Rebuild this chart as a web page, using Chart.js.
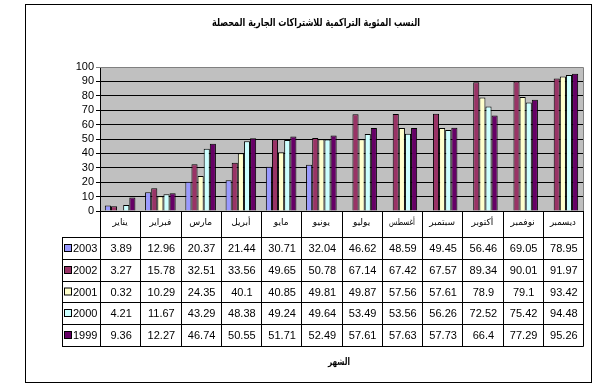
<!DOCTYPE html>
<html><head><meta charset="utf-8">
<script src="https://cdn.jsdelivr.net/npm/chart.js@4"></script>
<style>html,body{margin:0;padding:0;background:#fff}#wrap{width:598px;height:388px}</style>
</head><body><div id="wrap"><canvas id="c" width="598" height="388"></canvas></div>
<script>
const chartTitle = 'النسب المئوية التراكمية للاشتراكات الجارية المحصلة';
const axisTitle = 'الشهر';
const months = ['يناير','فبراير','مارس','أبريل','مايو','يونيو','يوليو','أغسطس','سبتمبر','أكتوبر','نوفمبر','ديسمبر'];
const years = ['2003','2002','2001','2000','1999'];
const v2003 = [3.89,12.96,20.37,21.44,30.71,32.04,46.62,48.59,49.45,56.46,69.05,78.95];
const v2002 = [3.27,15.78,32.51,33.56,49.65,50.78,67.14,67.42,67.57,89.34,90.01,91.97];
const v2001 = [0.32,10.29,24.35,40.1,40.85,49.81,49.87,57.56,57.61,78.9,79.1,93.42];
const v2000 = [4.21,11.67,43.29,48.38,49.24,49.64,53.49,53.56,56.26,72.52,75.42,94.48];
const v1999 = [9.36,12.27,46.74,50.55,51.71,52.49,57.61,57.63,57.73,66.4,77.29,95.26];
// 2003 cells from July on are stored as text in the sheet, so no bar is drawn for them
const drawn2003 = [1,1,1,1,1,1,0,0,0,0,0,0];
const yMin = 0, yMax = 100, yStep = 10;

const colors = ['#9999FF','#993366','#FFFFCC','#CCFFFF','#660066'];
const tableValues = [v2003, v2002, v2001, v2000, v1999];
const barValues = [v2003.map((v,i)=>drawn2003[i]?v:null), v2002, v2001, v2000, v1999];

const NUM_FONT = '11px "Liberation Sans", Arial, sans-serif';
const AR_FONT = '"DejaVu Sans", "Noto Sans", sans-serif';

const rowLines = [237, 259, 281, 302, 324, 346];

function fitText(ctx, text, cx, cy, maxW) {
  const w = ctx.measureText(text).width;
  const s = w > maxW ? maxW / w : 1;
  ctx.save();
  ctx.translate(cx, cy);
  ctx.scale(s, 1);
  ctx.fillText(text, 0, 0);
  ctx.restore();
}

const deco = {
  id: 'deco',
  beforeDraw(chart) {
    const {ctx, chartArea: a} = chart;
    ctx.save();
    ctx.fillStyle = '#fff';
    ctx.fillRect(0,0,chart.width,chart.height);
    ctx.fillStyle = '#C0C0C0';
    ctx.fillRect(a.left, a.top, a.right - a.left, a.bottom - a.top);
    ctx.restore();
  },
  afterDraw(chart) {
    const {ctx, chartArea: a} = chart;
    ctx.save();
    ctx.strokeStyle = '#808080';
    ctx.lineWidth = 1;
    ctx.beginPath();
    ctx.moveTo(a.left, Math.round(a.top)+0.5);
    ctx.lineTo(Math.round(a.right)+0.5, Math.round(a.top)+0.5);
    ctx.lineTo(Math.round(a.right)+0.5, Math.round(a.bottom));
    ctx.stroke();

    ctx.strokeStyle = '#000';
    ctx.strokeRect(25.5, 4.5, 566, 378);

    ctx.fillStyle = '#000';
    ctx.textAlign = 'center';
    ctx.textBaseline = 'middle';
    ctx.direction = 'rtl';
    ctx.font = 'bold 11px ' + AR_FONT;
    fitText(ctx, chartTitle, 316, 23, 208);
    ctx.font = 'bold 10px ' + AR_FONT;
    fitText(ctx, axisTitle, 339, 362, 22);
    ctx.direction = 'ltr';

    const n = months.length;
    const w = (a.right - a.left) / n;
    const top = Math.round(a.bottom);
    const tl = 62.5;
    ctx.strokeStyle = '#000';
    ctx.lineWidth = 1;
    ctx.beginPath();
    ctx.moveTo(Math.round(a.left)+0.5, top+0.5); ctx.lineTo(Math.round(a.right)+0.5, top+0.5);
    rowLines.forEach(y => { ctx.moveTo(tl, y+0.5); ctx.lineTo(Math.round(a.right)+0.5, y+0.5); });
    for (let k = 0; k <= n; k++) {
      const x = Math.round(a.left + k*w) + 0.5;
      ctx.moveTo(x, top); ctx.lineTo(x, rowLines[rowLines.length-1]+0.5);
    }
    ctx.moveTo(tl, rowLines[0]); ctx.lineTo(tl, rowLines[rowLines.length-1]+1);
    ctx.stroke();

    ctx.textAlign = 'center';
    ctx.textBaseline = 'middle';
    ctx.font = '9px ' + AR_FONT;
    ctx.direction = 'rtl';
    months.forEach((m,i) => {
      fitText(ctx, m, a.left + (i+0.5)*w, top + 12, 26);
    });
    ctx.direction = 'ltr';

    ctx.font = NUM_FONT;
    years.forEach((yr, r) => {
      const cy = (rowLines[r] + rowLines[r+1]) / 2 + 1;
      ctx.fillStyle = colors[r];
      ctx.fillRect(64.5, cy - 4.5, 7, 7);
      ctx.strokeStyle = '#000';
      ctx.strokeRect(64.5, cy - 4.5, 7, 7);
      ctx.fillStyle = '#000';
      ctx.textAlign = 'left';
      ctx.fillText(yr, 73, cy);
      ctx.textAlign = 'center';
      tableValues[r].forEach((v,i) => {
        ctx.fillText(String(v), a.left + (i+0.5)*w + 1, cy);
      });
    });
    ctx.restore();
  }
};

new Chart(document.getElementById('c'), {
  type: 'bar',
  data: {
    labels: months,
    datasets: years.map((yr, r) => ({
      label: yr,
      data: barValues[r],
      backgroundColor: colors[r],
      borderColor: '#000',
      borderWidth: 1,
      categoryPercentage: 0.76,
      barPercentage: 1.0
    }))
  },
  options: {
    responsive: false,
    devicePixelRatio: 1,
    animation: false,
    layout: { padding: { left: 0, right: 15, top: 67, bottom: 177 } },
    plugins: { legend: { display: false }, title: { display: false }, tooltip: { enabled: false } },
    scales: {
      x: { display: false },
      y: {
        min: yMin, max: yMax,
        afterFit(scale) { scale.width = 100; },
        ticks: { stepSize: yStep, autoSkip: false, color: '#000', font: { family: '"Liberation Sans", Arial, sans-serif', size: 11 }, padding: 2 },
        grid: { color: ctx => (ctx.tick && ctx.tick.value === yMax) ? '#808080' : '#000', lineWidth: 1, tickLength: 4, drawTicks: true },
        border: { display: true, color: '#000', width: 1 }
      }
    }
  },
  plugins: [deco]
});
</script>
</body></html>
